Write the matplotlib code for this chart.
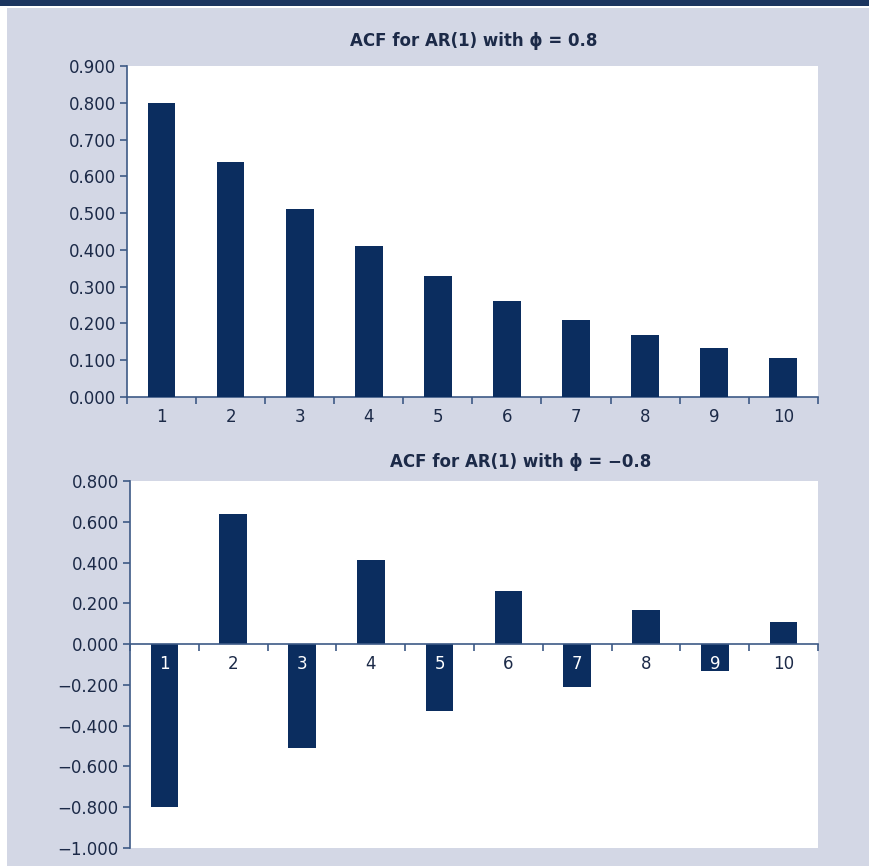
import numpy as np
import matplotlib.pyplot as plt
from matplotlib.patches import Rectangle

# autocorrelações teóricas de um AR(1)
lags = [1, 2, 3, 4, 5, 6, 7, 8, 9, 10]
acf_pos = [0.800, 0.640, 0.512, 0.410, 0.328, 0.262, 0.210, 0.168, 0.134, 0.107]
acf_neg = [-0.800, 0.640, -0.512, 0.410, -0.328, 0.262, -0.210, 0.168, -0.134, 0.107]

yticks_top = [0.0, 0.1, 0.2, 0.3, 0.4, 0.5, 0.6, 0.7, 0.8, 0.9]
yticks_bot = [-1.0, -0.8, -0.6, -0.4, -0.2, 0.0, 0.2, 0.4, 0.6, 0.8]

title_top = "ACF for AR(1) with ϕ = 0.8"
title_bot = "ACF for AR(1) with ϕ = −0.8"

BAR = "#0b2d5f"
BG = "#d3d7e5"
AXIS = "#3d5a86"
TXT = "#1c2a48"

plt.rcParams["font.family"] = ["DejaVu Sans"]

fig = plt.figure(figsize=(8.7, 8.66), dpi=100)
fig.patch.set_facecolor("white")

# fundo e faixa superior
fig.patches.append(Rectangle((0.008, 0), 0.992, 0.991, transform=fig.transFigure,
                             facecolor=BG, edgecolor="none", zorder=-2))
fig.patches.append(Rectangle((0, 0.9925), 1, 0.0075, transform=fig.transFigure,
                             facecolor="#1b355f", edgecolor="none", zorder=-1))


def fmt(v):
    return f"{v:.3f}".replace("-", "−")


def style(ax, yticks):
    ax.set_facecolor("white")
    for s in ["top", "right"]:
        ax.spines[s].set_visible(False)
    for s in ["left", "bottom"]:
        ax.spines[s].set_color(AXIS)
        ax.spines[s].set_linewidth(1.2)
    ax.set_yticks(yticks)
    ax.set_yticklabels([fmt(v) for v in yticks])
    ax.set_ylim(yticks[0], yticks[-1])
    ax.set_xlim(0.5, 10.5)
    ax.set_xticks(lags)
    ax.set_xticklabels([str(k) for k in lags])
    ax.set_xticks(np.arange(0.5, 11, 1.0), minor=True)
    ax.tick_params(axis="y", direction="out", length=5, width=1.2, color=AXIS,
                   labelsize=12, labelcolor=TXT, pad=3)
    ax.tick_params(axis="x", which="major", length=0, labelsize=12,
                   labelcolor=TXT, pad=8)
    ax.tick_params(axis="x", which="minor", direction="out", length=5,
                   width=1.2, color=AXIS)


# gráfico de cima: phi = 0.8
ax1 = fig.add_axes([0.146, 0.5416, 0.794, 0.3822])
ax1.bar(lags, acf_pos, width=0.4, color=BAR, zorder=3)
style(ax1, yticks_top)
fig.text(0.544, 0.953, title_top, ha="center", va="center",
         fontsize=12, fontweight="bold", color=TXT)

# gráfico de baixo: phi = -0.8
ax2 = fig.add_axes([0.1494, 0.0208, 0.7908, 0.4238])
ax2.bar(lags, acf_neg, width=0.4, color=BAR, zorder=1)
style(ax2, yticks_bot)
ax2.spines["bottom"].set_position(("data", 0))
ax2.spines["bottom"].set_zorder(2)
for lbl, v in zip(ax2.get_xticklabels(), acf_neg):
    lbl.set_color("white" if v < 0 else TXT)
    lbl.set_zorder(4)
fig.text(0.598, 0.467, title_bot, ha="center", va="center",
         fontsize=12, fontweight="bold", color=TXT)

fig.savefig("out.png", dpi=100, facecolor=fig.get_facecolor())
